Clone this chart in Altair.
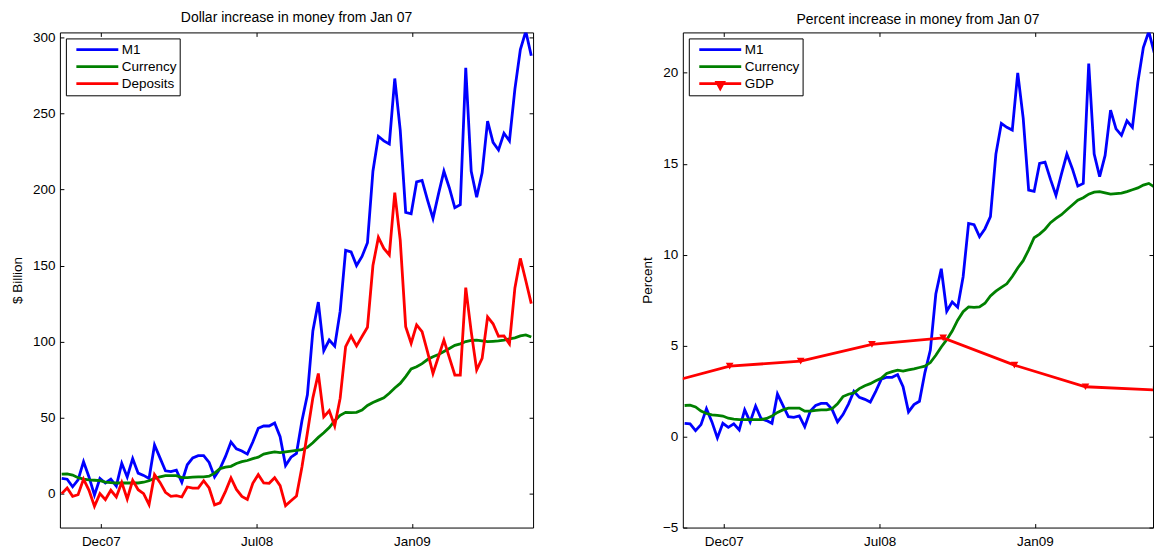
import altair as alt
import pandas as pd

FONT = "Liberation Sans"

# ---------------- data (weekly index) ----------------
week = list(range(87))

m1_dollar = [10, 9.5, 4.5, 9, 21, 11, -1, 10, 7, 9.5,
             5, 20, 11, 23, 13.5, 12, 10, 32, 23.5, 15,
             14.5, 15.5, 7.5, 19, 23.5, 25, 25, 20.5, 11, 16.5,
             24.5, 34, 29.5, 28, 26, 34, 43, 44.5, 44.5, 46.5,
             37.5, 18.5, 24, 26.5, 48, 65, 107, 126, 94, 101,
             97, 120, 160, 159, 150, 156, 165, 212, 235, 232,
             230, 273, 239, 185, 184, 205, 206, 193, 181, 197,
             212, 201, 188, 190, 280, 212, 195, 211, 245, 231,
             226, 237, 232, 266, 292, 304, 288]

currency_dollar = [12.8, 13, 12.2, 10.5, 9.5, 9, 8.8, 8.5, 7.6, 7.2,
                   7, 7, 7, 7, 7, 7.5, 8.5, 10, 11, 11.8,
                   11.8, 11.8, 10.5, 10.5, 10.8, 11, 11, 11.5, 13.5, 16.5,
                   17.5, 18, 19.8, 21, 21.8, 23, 24, 26, 26.8, 27.4,
                   27, 27.5, 28, 28.5, 29, 30.5, 33.5, 37, 40, 43.5,
                   48, 51.5, 53.5, 53.3, 53.5, 55, 58, 60, 61.5, 63,
                   66, 69.5, 72.5, 77, 82, 83.5, 85.5, 88.2, 90, 91.5,
                   93.5, 95.5, 97.5, 98.5, 100, 100.8, 101, 100.5, 100, 100.2,
                   100.4, 101, 101.8, 102.5, 103.7, 104.4, 103]

deposits_dollar = [0, 3.7, -1.8, -0.7, 9.6, 2.2, -8.3, 0, -3.9, 2.2,
                   -2.2, 7.4, -3.5, 8.8, 2.6, 0, -7.2, 12.5, 7.4, 0.9,
                   -1.8, -1.3, -2.2, 4.4, 3.7, 3.7, 8.5, 3.7, -7.4, -6.1,
                   1.5, 10.3, 2.8, -1.8, -3.8, 6.8, 12.5, 7, 6.8, 10.5,
                   5.3, -7.9, -4.7, -1.6, 17.5, 40, 63, 79, 50.5, 54.5,
                   44.5, 62.8, 96.7, 103.7, 97.2, 103.3, 109.4, 150, 168.5, 161.3,
                   157, 198, 166.7, 109.8, 98.9, 111, 106.5, 93.3, 79, 90,
                   101, 89.5, 78, 78, 135.5, 106.5, 81.3, 89, 116.2, 111.7,
                   103.5, 103.7, 98.5, 135.3, 154.7, 140, 125]

m1_pct = [0.73, 0.70, 0.33, 0.66, 1.54, 0.81, -0.07, 0.73, 0.51, 0.70,
          0.37, 1.47, 0.81, 1.68, 0.99, 0.88, 0.73, 2.34, 1.72, 1.10,
          1.06, 1.14, 0.55, 1.39, 1.72, 1.83, 1.83, 1.50, 0.81, 1.21,
          1.79, 2.49, 2.16, 2.05, 1.90, 2.49, 3.15, 3.26, 3.26, 3.41,
          2.75, 1.36, 1.76, 1.94, 3.52, 4.76, 7.84, 9.23, 6.89, 7.40,
          7.11, 8.79, 11.72, 11.65, 10.99, 11.43, 12.09, 15.53, 17.22, 17.00,
          16.85, 20.00, 17.51, 13.55, 13.48, 15.02, 15.09, 14.14, 13.26, 14.43,
          15.53, 14.73, 13.77, 13.92, 20.51, 15.53, 14.29, 15.46, 17.95, 16.92,
          16.56, 17.36, 17.00, 19.49, 21.39, 22.27, 21.10]

currency_pct = [1.71, 1.73, 1.63, 1.40, 1.27, 1.20, 1.17, 1.13, 1.01, 0.96,
                0.93, 0.93, 0.93, 0.93, 0.93, 1.00, 1.13, 1.33, 1.47, 1.57,
                1.57, 1.57, 1.40, 1.40, 1.44, 1.47, 1.47, 1.53, 1.80, 2.20,
                2.33, 2.40, 2.64, 2.80, 2.91, 3.07, 3.20, 3.47, 3.57, 3.65,
                3.60, 3.67, 3.73, 3.80, 3.87, 4.07, 4.47, 4.93, 5.33, 5.80,
                6.40, 6.87, 7.13, 7.11, 7.13, 7.33, 7.73, 8.00, 8.20, 8.40,
                8.80, 9.27, 9.67, 10.27, 10.93, 11.13, 11.40, 11.76, 12.00, 12.20,
                12.47, 12.73, 13.00, 13.13, 13.33, 13.44, 13.47, 13.40, 13.33, 13.36,
                13.39, 13.47, 13.57, 13.67, 13.83, 13.92, 13.73]

gdp_week = [-4.75, 8.25, 21.25, 34.3, 47.35, 60.4, 73.4, 86.4]
gdp_pct = [2.83, 3.87, 4.15, 5.07, 5.43, 3.93, 2.74, 2.56]

x_tick_pos = [7.17, 35.69, 64.15]
x_tick_labels = ["Dec07", "Jul08", "Jan09"]
left_y_ticks = [0, 50, 100, 150, 200, 250, 300]
right_y_ticks = [-5, 0, 5, 10, 15, 20]

left_names = ["M1", "Currency", "Deposits"]
right_names = ["M1", "Currency", "GDP"]
left_colors = ["#0000ff", "#008000", "#ff0000"]
right_colors = ["#0000ff", "#008000", "#ff0000"]

# ---------------- tables ----------------
n = len(week)
left_df = pd.DataFrame({
    "week": week * 3,
    "value": m1_dollar + currency_dollar + deposits_dollar,
    "series": ["M1"] * n + ["Currency"] * n + ["Deposits"] * n,
})
right_df = pd.DataFrame({
    "week": week * 2 + gdp_week,
    "value": m1_pct + currency_pct + gdp_pct,
    "series": ["M1"] * n + ["Currency"] * n + ["GDP"] * len(gdp_week),
})

# ---------------- layout constants ----------------
H = 496
W_LEFT, W_RIGHT = 474, 471
X_LEFT = [-0.33, 86.33]
X_RIGHT = [-0.33, 85.77]
Y_LEFT = [-22.3, 303.3]
Y_RIGHT = [-5, 22.22]
FS = 13.5

mid1 = (x_tick_pos[0] + x_tick_pos[1]) / 2
mid2 = (x_tick_pos[1] + x_tick_pos[2]) / 2
label_expr = (f"datum.value < {mid1} ? '{x_tick_labels[0]}' : "
              f"datum.value < {mid2} ? '{x_tick_labels[1]}' : '{x_tick_labels[2]}'")


def tick_axis(orient, offset, values):
    return alt.Axis(orient=orient, offset=offset, values=values, labels=False,
                    domain=False, grid=False, ticks=True, tickSize=4,
                    tickColor="black", tickWidth=1, title=None)


x_label_axis = alt.Axis(orient="bottom", values=x_tick_pos, labelExpr=label_expr,
                        ticks=False, domain=False, grid=False, title=None,
                        labelPadding=7, labelFontSize=FS, labelColor="black",
                        labelFont=FONT, labelFlush=False)


def y_label_axis(values, title):
    return alt.Axis(orient="left", values=values, ticks=False, domain=False,
                    grid=False, title=title, titleFont=FONT, titleFontSize=FS,
                    titleFontWeight="normal", titleColor="black", titlePadding=8,
                    labelPadding=5, labelFontSize=FS, labelColor="black",
                    labelFont=FONT, format="d")


def make_legend(fill=None, shape_expr=None):
    kw = dict(orient="top-left", offset=5.5, padding=3, title=None,
              strokeColor="black", fillColor="white", symbolSize=1764,
              symbolStrokeWidth=2.8, symbolOffset=6, labelOffset=2,
              clipHeight=16.5, rowPadding=0, labelFontSize=FS, labelFont=FONT,
              labelColor="black", cornerRadius=0, labelLimit=200)
    if shape_expr is not None:
        kw["symbolType"] = alt.ExprRef(shape_expr)
    else:
        kw["symbolType"] = "stroke"
    if fill is not None:
        kw["symbolFillColor"] = fill
    return alt.Legend(**kw)


def panel(df, names, colors, xdom, ydom, yvals, ytitle, width, title, legend, third_points=False):
    cscale = alt.Scale(domain=names, range=colors)
    xsc = alt.Scale(domain=xdom, nice=False, zero=False)
    ysc = alt.Scale(domain=ydom, nice=False, zero=False)

    def line(name, xaxis, yaxis):
        return alt.Chart(df).transform_filter(alt.datum.series == name).mark_line(
            strokeWidth=2.8, clip=True
        ).encode(
            x=alt.X("week:Q", scale=xsc, axis=xaxis),
            y=alt.Y("value:Q", scale=ysc, axis=yaxis),
            color=alt.Color("series:N", scale=cscale, legend=legend),
        )

    layers = [
        line(names[0], x_label_axis, y_label_axis(yvals, ytitle)),
        line(names[1], tick_axis("top", -H, x_tick_pos), tick_axis("right", -width, yvals)),
        line(names[2], tick_axis("bottom", -H, x_tick_pos), tick_axis("left", -width, yvals)),
    ]
    if third_points:
        layers.append(
            alt.Chart(df).transform_filter(alt.datum.series == names[2]).mark_point(
                shape="triangle-down", filled=True, size=60, color=colors[2],
                opacity=1, clip=True
            ).encode(
                x=alt.X("week:Q", scale=xsc, axis=None),
                y=alt.Y("value:Q", scale=ysc, axis=None),
            )
        )
    return alt.layer(*layers).resolve_axis(x="independent", y="independent").properties(
        width=width, height=H,
        title=alt.Title(title, fontSize=14, fontWeight="normal", font=FONT,
                        color="black", offset=5, anchor="middle"),
    )


left = panel(left_df, left_names, left_colors, X_LEFT, Y_LEFT, left_y_ticks,
             "$ Billion", W_LEFT, "Dollar increase in money from Jan 07",
             make_legend())
right = panel(right_df, right_names, right_colors, X_RIGHT, Y_RIGHT, right_y_ticks,
              "Percent", W_RIGHT, "Percent increase in money from Jan 07",
              make_legend(fill="#ff0000",
                          shape_expr="datum.value === 'GDP' ? 'M-1,0H1M-0.16,-0.06H0.16L0,0.24Z' : 'stroke'"),
              third_points=True)

chart = alt.hconcat(left, right, spacing=150, bounds="flush").resolve_scale(
    x="independent", y="independent", color="independent"
).resolve_legend(color="independent").properties(
    padding={"left": 9, "top": 10, "right": 0, "bottom": 2},
    background="white",
).configure(font=FONT).configure_view(stroke="black", strokeWidth=1)

chart.save("out.html", embed_options={"renderer": "svg", "actions": False})
